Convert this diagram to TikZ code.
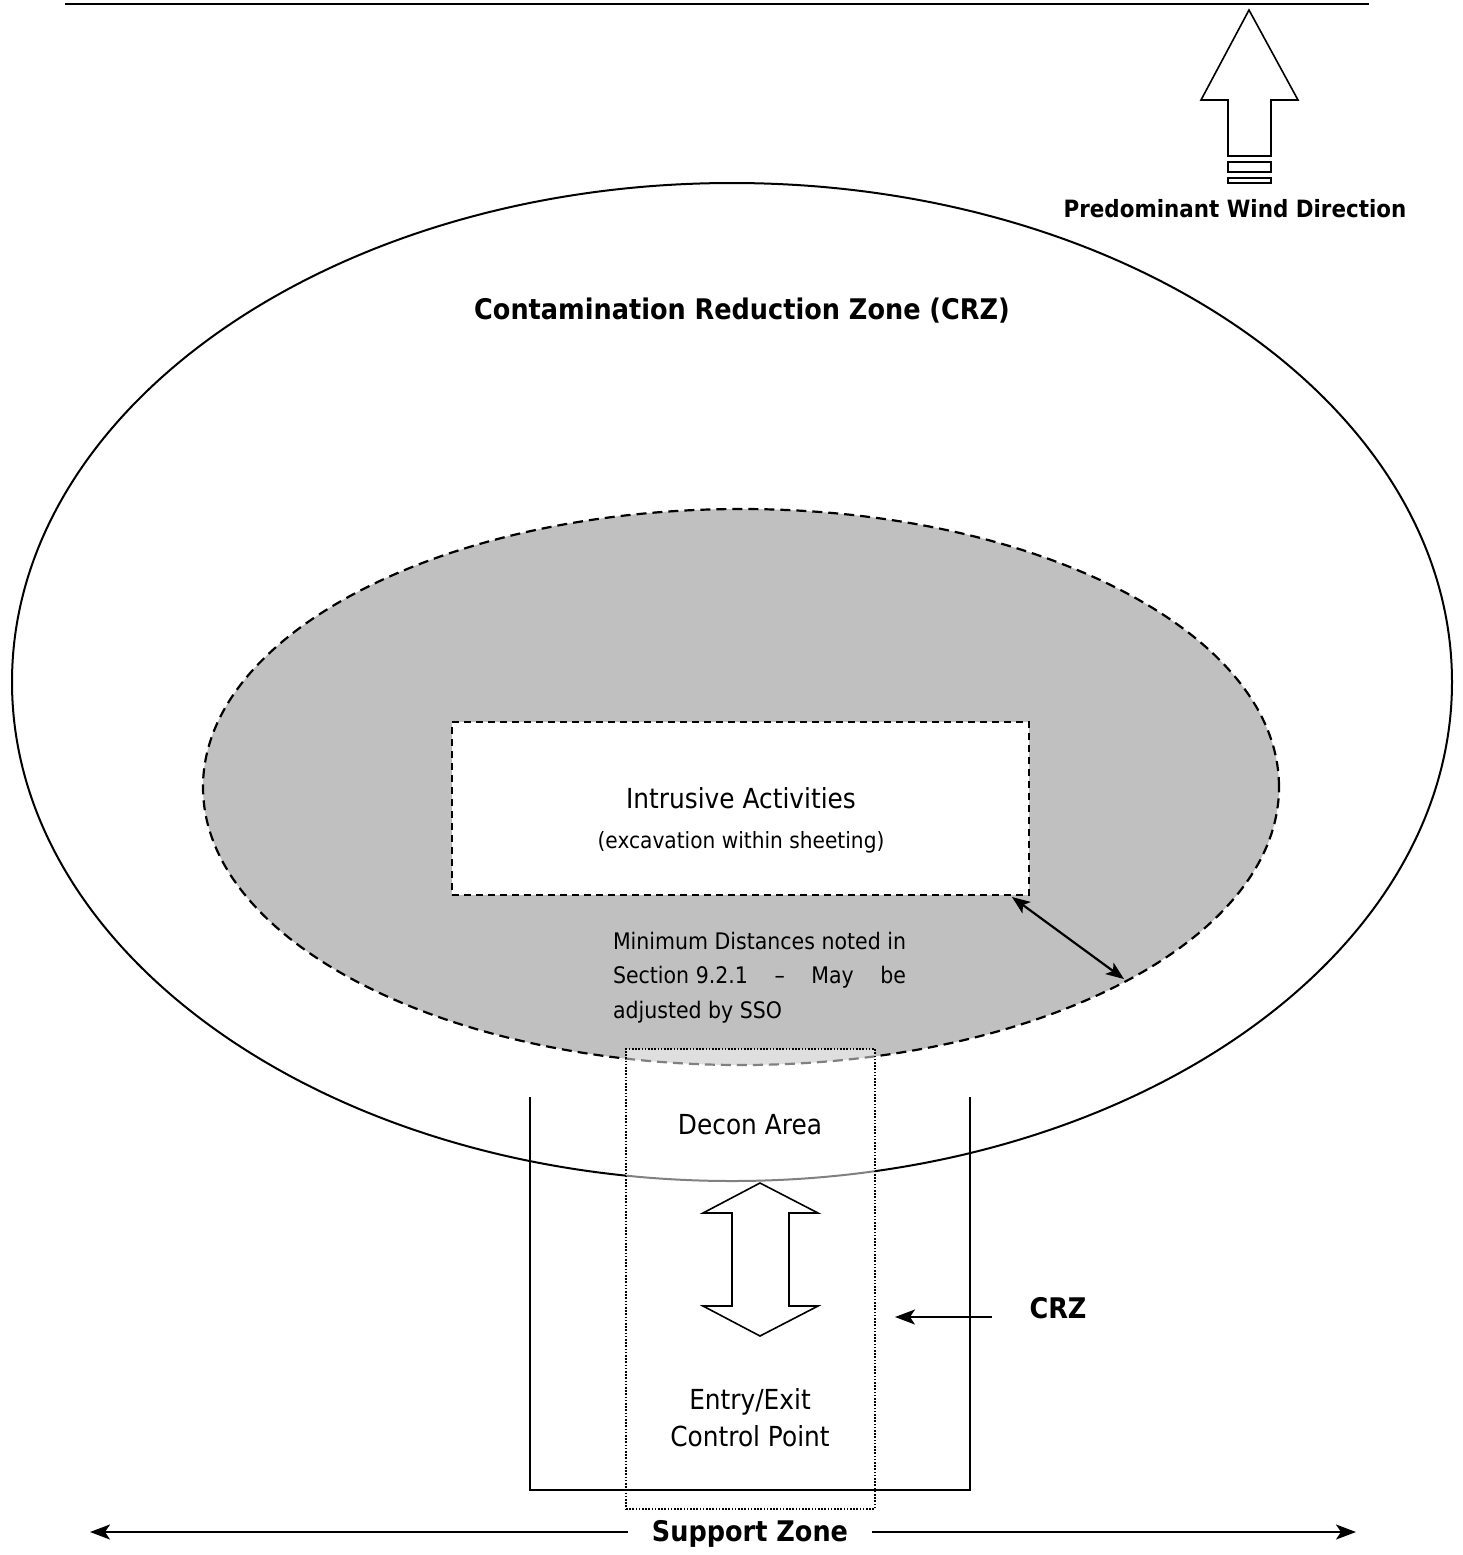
\documentclass[tikz,border=0pt]{standalone}
\usepackage{fontspec}
\setmainfont{DejaVu Sans}[FakeStretch=0.9]
\usetikzlibrary{shapes.geometric,arrows.meta,calc}
\definecolor{zonegray}{HTML}{C0C0C0}

\begin{document}
\begin{tikzpicture}[x=0.5pt,y=-0.5pt,
  zone/.style={ellipse, inner sep=0pt, outer sep=0pt},
  boxed/.style={rectangle, inner sep=0pt, outer sep=0pt},
  label/.style={inner sep=0pt, outer sep=0pt, font=\fontsize{13.8pt}{16pt}\selectfont},
  boldlabel/.style={inner sep=0pt, outer sep=0pt, font=\fontsize{14.2pt}{16pt}\selectfont\bfseries},
  tip/.style={-{Stealth[length=10pt,width=7.5pt,inset=2.5pt]}},
  bothtips/.style={{Stealth[length=9pt,width=7pt,inset=2.2pt]}-{Stealth[length=9pt,width=7pt,inset=2.2pt]}},
  outline/.style={line width=0.8pt, line join=miter}]

% page
\fill[white] (0,0) rectangle (1463,1555);
\useasboundingbox (0,0) rectangle (1463,1555);

% rule across the top
\coordinate (ruleL) at (65,4);
\coordinate (ruleR) at (1369,4);
\draw[line width=1.4pt] (ruleL) -- (ruleR);

% wind direction arrow
\draw[outline] (1249,10) -- (1298,100) -- (1271,100) -- (1271,156) -- (1228,156)
  -- (1228,100) -- (1201,100) -- cycle;
\draw[outline] (1228,162) rectangle (1271,172);
\draw[outline] (1228,178) rectangle (1271,183);
\node[boldlabel, font=\fontsize{11.9pt}{14pt}\selectfont\bfseries] (wind) at (1235,209) {Predominant Wind Direction};

% contamination reduction zone
\node[zone, draw, line width=1pt, minimum width=720pt, minimum height=499pt] (crz) at (732,682) {};
\node[boldlabel] (crzlabel) at (742,311) {Contamination Reduction Zone (CRZ)};

% exclusion zone
\node[zone, draw, fill=zonegray, line width=1.1pt, dash pattern=on 5pt off 3pt,
  minimum width=538pt, minimum height=278pt] (excl) at (741,787) {};

% intrusive activities
\node[boxed, draw, fill=white, line width=0.95pt, dash pattern=on 3.5pt off 2.5pt,
  minimum width=288.5pt, minimum height=86.5pt] (intr) at (740.5,808.5) {};
\node[label] (intrtitle) at (741,798) {Intrusive Activities};
\node[label, font=\fontsize{11.2pt}{13pt}\selectfont] (intrnote) at (741,842) {(excavation within sheeting)};

% minimum distance note
\node[inner sep=0pt, outer sep=0pt, anchor=north west, font=\fontsize{11.4pt}{17.25pt}\selectfont,
  align=left] (mindist) at (613,932) {%
  \makebox[146.5pt][s]{Minimum Distances noted in}\\
  \makebox[146.5pt][s]{Section 9.2.1 \hfill – \hfill May \hfill be}\\
  adjusted by SSO};

% distance marker from the work area to the zone edge
\coordinate (distA) at (1012,897);
\coordinate (distB) at (1124,979);
\draw[bothtips, line width=1.1pt] (distA) -- (distB);

% decon area overlay
\node[boxed, fill=white, fill opacity=0.5, draw, line width=0.9pt,
  dash pattern=on 0.8pt off 0.8pt,
  minimum width=124.5pt, minimum height=230pt] (decon) at (750.5,1279) {};
\node[label] (decontext) at (750,1125) {Decon Area};

% two-way passage arrow
\draw[outline] (760,1183) -- (818,1213) -- (789,1213) -- (789,1306) -- (818,1306)
  -- (760,1336) -- (703,1306) -- (732,1306) -- (732,1213) -- (703,1213) -- cycle;

\node[label, align=center, font=\fontsize{13.8pt}{18.5pt}\selectfont] (entry) at (750,1418) {Entry/Exit\\Control Point};

% corridor boundary
\coordinate (corTL) at (530,1097);
\coordinate (corTR) at (970,1097);
\draw[line width=1pt] (corTL) -- (530,1490) -- (970,1490) -- (corTR);

% corridor label
\node[boldlabel] (crzside) at (1058,1308) {CRZ};
\coordinate (crzA) at (992,1317);
\coordinate (crzB) at (895,1317);
\draw[tip, line width=1pt] (crzA) -- (crzB);

% support zone
\node[boldlabel, inner xsep=12pt] (support) at (750,1534) {Support Zone};
\coordinate (supL) at (90,1532);
\coordinate (supR) at (1356,1532);
\draw[tip, line width=1.1pt] (support.west |- supL) -- (supL);
\draw[tip, line width=1.1pt] (support.east |- supR) -- (supR);

\end{tikzpicture}
\end{document}
